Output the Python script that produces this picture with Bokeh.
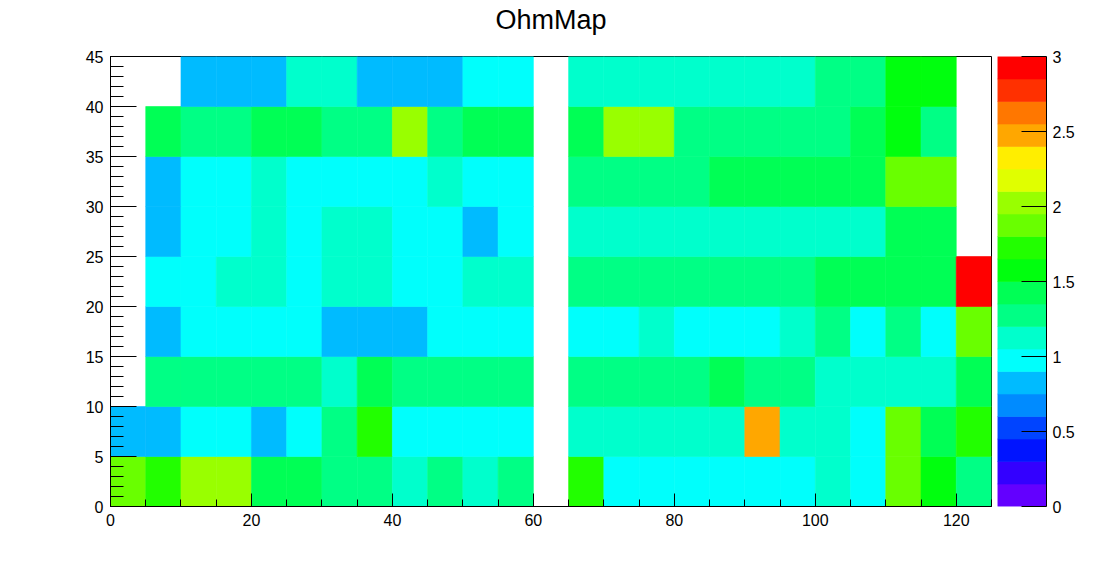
import colorsys
from bokeh.plotting import figure
from bokeh.models import (LinearColorMapper, SingleIntervalTicker, FixedTicker,
                          ColumnDataSource, Div)
from bokeh.layouts import row, column
from bokeh.transform import transform
from bokeh.embed import file_html
from bokeh.resources import INLINE

# ---------------- data (0 = empty bin, not drawn) ----------------
x_edges = [0, 5, 10, 15, 20, 25, 30, 35, 40, 45, 50, 55, 60, 65, 70, 75, 80,
           85, 90, 95, 100, 105, 110, 115, 120, 125]
y_edges = [0, 5, 10, 15, 20, 25, 30, 35, 40, 45]

y_00_05 = [1.88, 1.72, 2.03, 2.03, 1.42, 1.42, 1.27, 1.27, 1.13, 1.27, 1.13, 1.27, 0,
           1.72, 0.98, 0.98, 0.98, 0.98, 0.98, 0.98, 1.13, 0.98, 1.88, 1.57, 1.27]
y_05_10 = [0.83, 0.83, 0.98, 0.98, 0.83, 0.98, 1.27, 1.72, 0.98, 0.98, 0.98, 0.98, 0,
           1.13, 1.13, 1.13, 1.13, 1.13, 2.46, 1.13, 1.13, 0.98, 1.88, 1.42, 1.72]
y_10_15 = [0, 1.27, 1.27, 1.27, 1.27, 1.27, 1.13, 1.42, 1.27, 1.27, 1.27, 1.27, 0,
           1.27, 1.27, 1.27, 1.27, 1.42, 1.27, 1.27, 1.13, 1.13, 1.13, 1.13, 1.42]
y_15_20 = [0, 0.83, 0.98, 0.98, 0.98, 0.98, 0.83, 0.83, 0.83, 0.98, 0.98, 0.98, 0,
           0.98, 0.98, 1.13, 0.98, 0.98, 0.98, 1.13, 1.27, 0.98, 1.27, 0.98, 1.88]
y_20_25 = [0, 0.98, 0.98, 1.13, 1.13, 0.98, 1.13, 1.13, 0.98, 0.98, 1.13, 1.13, 0,
           1.27, 1.27, 1.27, 1.27, 1.27, 1.27, 1.27, 1.42, 1.42, 1.42, 1.42, 2.92]
y_25_30 = [0, 0.83, 0.98, 0.98, 1.13, 0.98, 1.13, 1.13, 0.98, 0.98, 0.83, 0.98, 0,
           1.13, 1.13, 1.13, 1.13, 1.13, 1.13, 1.13, 1.13, 1.13, 1.42, 1.42, 0]
y_30_35 = [0, 0.83, 0.98, 0.98, 1.13, 0.98, 0.98, 0.98, 0.98, 1.13, 0.98, 0.98, 0,
           1.27, 1.27, 1.27, 1.27, 1.42, 1.42, 1.42, 1.42, 1.42, 1.88, 1.88, 0]
y_35_40 = [0, 1.42, 1.27, 1.27, 1.42, 1.42, 1.27, 1.27, 2.03, 1.27, 1.42, 1.42, 0,
           1.42, 2.03, 2.03, 1.27, 1.27, 1.27, 1.27, 1.27, 1.42, 1.57, 1.27, 0]
y_40_45 = [0, 0, 0.83, 0.83, 0.83, 1.13, 1.13, 0.83, 0.83, 0.83, 0.98, 0.98, 0,
           1.13, 1.13, 1.13, 1.13, 1.13, 1.13, 1.13, 1.27, 1.27, 1.57, 1.57, 0]

rows = [y_00_05, y_05_10, y_10_15, y_15_20, y_20_25, y_25_30, y_30_35, y_35_40, y_40_45]

title_text = "OhmMap"
z_min, z_max, n_levels = 0.0, 3.0, 20
cbar_ticks = [0, 0.5, 1, 1.5, 2, 2.5, 3]
cbar_labels = ["0", "0.5", "1", "1.5", "2", "2.5", "3"]

# ---------------- ROOT "pretty" palette (20 contours out of 50 colours) ----------------
palette = []
for k in range(n_levels):
    idx = int((k + 0.99) * 50 / n_levels)
    hue = 280 - (idx + 1) * 280 / 50 if idx < 49 else 0
    r, g, b = colorsys.hls_to_rgb(hue / 360.0, 0.5, 1.0)
    palette.append("#%02x%02x%02x" % (round(r * 255), round(g * 255), round(b * 255)))

mapper = LinearColorMapper(palette=palette, low=z_min, high=z_max)

left, right, bottom, top, val = [], [], [], [], []
for j, vals in enumerate(rows):
    for i, v in enumerate(vals):
        if v > 0:
            left.append(x_edges[i]); right.append(x_edges[i + 1])
            bottom.append(y_edges[j]); top.append(y_edges[j + 1])
            val.append(v)
src = ColumnDataSource(dict(left=left, right=right, bottom=bottom, top=top, value=val))

FONT = "Liberation Sans"
TITLE_H = 36
FIG_H = 562 - TITLE_H

p = figure(width=997, height=FIG_H, x_range=(0, 125), y_range=(0, 45),
           output_backend="svg", toolbar_location=None, tools="",
           min_border_left=110, min_border_right=6, min_border_top=56 - TITLE_H,
           min_border_bottom=56)
p.quad(left="left", right="right", bottom="bottom", top="top", source=src,
       fill_color=transform("value", mapper), line_color=transform("value", mapper),
       line_width=0.6)

p.grid.visible = False
p.outline_line_color = "black"
p.outline_line_alpha = 1.0
p.background_fill_color = "white"
p.border_fill_color = "white"

p.xaxis.ticker = SingleIntervalTicker(interval=20, num_minor_ticks=4)
p.yaxis.ticker = SingleIntervalTicker(interval=5, num_minor_ticks=5)
for ax in (p.xaxis[0], p.yaxis[0]):
    ax.axis_line_color = "black"
    ax.major_tick_line_color = "black"
    ax.minor_tick_line_color = "black"
    ax.major_tick_out = 0
    ax.minor_tick_out = 0
    ax.major_label_text_font = FONT
    ax.major_label_text_font_size = "16px"
    ax.major_label_text_color = "black"
    ax.major_label_standoff = 7
p.xaxis.major_tick_in = 13
p.xaxis.minor_tick_in = 7
p.yaxis.major_tick_in = 26
p.yaxis.minor_tick_in = 13

# ---------------- colour bar as its own small figure ----------------
levels = [z_min + (z_max - z_min) * k / n_levels for k in range(n_levels + 1)]
cb = figure(width=105, height=FIG_H, x_range=(0, 1), y_range=(z_min, z_max),
            output_backend="svg", toolbar_location=None, tools="",
            x_axis_location=None, y_axis_location="right",
            min_border_left=0, min_border_right=56, min_border_top=56 - TITLE_H,
            min_border_bottom=56)
cb.quad(left=0, right=1, bottom=levels[:-1], top=levels[1:], fill_color=palette,
        line_color=palette, line_width=0.6)
cb.grid.visible = False
cb.outline_line_color = None
cb.background_fill_color = "white"
cb.border_fill_color = "white"
ya = cb.yaxis[0]
ya.ticker = FixedTicker(ticks=cbar_ticks, minor_ticks=[])
ya.major_label_overrides = {t: l for t, l in zip(cbar_ticks, cbar_labels)}
ya.axis_line_color = "black"
ya.major_tick_line_color = "black"
ya.major_tick_in = 25
ya.major_tick_out = 0
ya.minor_tick_in = 0
ya.minor_tick_out = 0
ya.major_label_text_font = FONT
ya.major_label_text_font_size = "16px"
ya.major_label_text_color = "black"
ya.major_label_standoff = 6

# ---------------- title (centred on the frame) ----------------
title = Div(text=title_text, width=1102, height=TITLE_H,
            styles={"font-family": FONT, "font-size": "27px", "line-height": "30px",
                    "padding-top": "5px", "text-align": "center", "color": "black",
                    "width": "1102px", "margin": "0", "box-sizing": "border-box",
                    "overflow": "hidden"})

layout = column(title, row(p, cb, spacing=0), spacing=0)
open("out.html", "w").write(file_html(layout, INLINE))
